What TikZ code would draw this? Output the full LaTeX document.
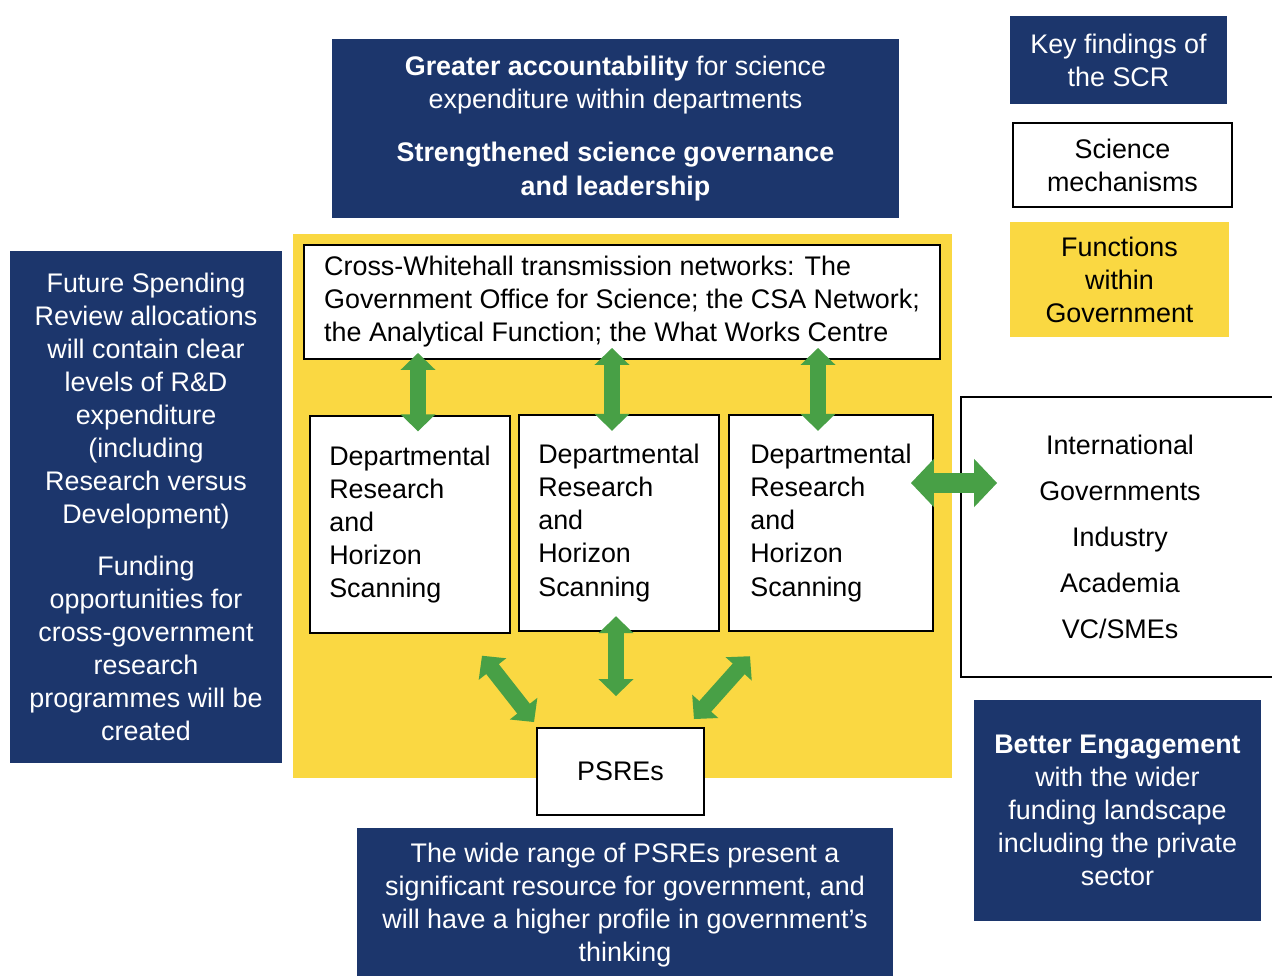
\documentclass[tikz,border=0pt]{standalone}
\usepackage{fontspec}
\setmainfont{Liberation Sans}
\usetikzlibrary{calc,arrows.meta}

\definecolor{scrnavy}{RGB}{28,54,108}
\definecolor{govyellow}{RGB}{250,216,66}
\definecolor{linkgreen}{RGB}{72,160,70}

\begin{document}
\begin{tikzpicture}[x=0.02cm,y=-0.02cm,
    txt/.style={font=\fontsize{15.3}{18.8}\selectfont},
    finding/.style={txt,fill=scrnavy,text=white,align=center,inner sep=0pt},
    mech/.style={txt,draw=black,line width=1.1pt,fill=white,inner sep=0pt},
    deptbox/.style={mech,align=left,minimum height=4.33cm},
    link/.style={linkgreen,line width=0.32cm,
        {Triangle[length=0.34cm,width=0.68cm]}-{Triangle[length=0.34cm,width=0.68cm]}},
    biglink/.style={linkgreen,line width=0.4cm,
        {Triangle[length=0.46cm,width=0.94cm]}-{Triangle[length=0.46cm,width=0.94cm]}}]
\useasboundingbox[fill=white] (0,0) rectangle (1272,975);

% legend
\node[finding,minimum width=4.34cm,minimum height=1.76cm] (keyfind) at (1118.5,60)
    {Key findings of\\the SCR};
\node[mech,align=center,minimum width=4.38cm,minimum height=1.68cm] (keymech) at (1122.5,165)
    {Science\\mechanisms};
\node[txt,fill=govyellow,align=center,inner sep=0pt,minimum width=4.38cm,minimum height=2.3cm]
    (keyfunc) at (1119.5,279.5) {Functions\\within\\Government};

% findings round the edge
\node[finding,minimum width=11.34cm,minimum height=3.58cm] (account) at (615.5,128.5)
    {\textbf{Greater accountability} for science\\expenditure within departments\\[0.4cm]
     \textbf{Strengthened science governance}\\\textbf{and leadership}};
\node[finding,minimum width=5.44cm,minimum height=10.24cm] (spending) at (146,507)
    {Future Spending\\Review allocations\\will contain clear\\levels of R\&D\\expenditure\\(including\\
     Research versus\\Development)\\[0.38cm]Funding\\opportunities for\\cross-government\\research\\
     programmes will be\\created};
\node[finding,minimum width=5.74cm,minimum height=4.42cm] (engage) at (1117.5,810.5)
    {\textbf{Better Engagement}\\with the wider\\funding landscape\\including the private\\sector};
\node[finding,minimum width=10.72cm,minimum height=3.08cm] (psrerange) at (625,905)
    {The wide range of PSREs  present a\\significant resource for government, and\\
     will have a higher profile in government's\\thinking};

% government functions
\fill[govyellow] (293,234) rectangle (952,778);
\node[mech,align=left,minimum width=12.72cm,minimum height=2.28cm] (cross) at (622,302)
    {Cross-Whitehall transmission networks: The\\Government Office for Science; the CSA Network;\\
     the Analytical Function; the What Works Centre};
\node[deptbox,minimum width=4cm] (d1) at (410,524.5)
    {Departmental\\Research\\and\\Horizon\\Scanning};
\node[deptbox,minimum width=4cm] (d2) at (619,523)
    {Departmental\\Research\\and\\Horizon\\Scanning};
\node[deptbox,minimum width=4.08cm] (d3) at (831,523)
    {Departmental\\Research\\and\\Horizon\\Scanning};
\node[mech,minimum width=3.34cm,minimum height=1.74cm] (psre) at (620.5,771.5) {PSREs};
\node[mech,align=center,minimum width=6.36cm,minimum height=5.6cm,
      font=\fontsize{15.3}{26.2}\selectfont] (outside) at (1120,537)
    {International\\Governments\\Industry\\Academia\\VC/SMEs};

% links
\draw[link] ($(d1.north |- cross.south)+(8,-7)$) -- ($(d1.north)+(8,16)$);
\draw[link] ($(d2.north |- cross.south)+(-7,-12)$) -- ($(d2.north)+(-7,17)$);
\draw[link] ($(d3.north |- cross.south)+(-13,-12)$) -- ($(d3.north)+(-13,17)$);
\draw[biglink] ($(d3.east)+(-23,-40)$) -- ($(d3.east -| outside.west)+(37,-40)$);
\draw[link] ($(d2.south)+(-3,-16)$) -- ($(psre.north)+(-4.5,-31)$);
\draw[link] ($(d1.south)+(72,22)$) -- ($(psre.north west)+(-2,-5)$);
\draw[link] ($(d3.south)+(-81,24)$) -- ($(psre.north east)+(-11,-8)$);
\end{tikzpicture}
\end{document}
